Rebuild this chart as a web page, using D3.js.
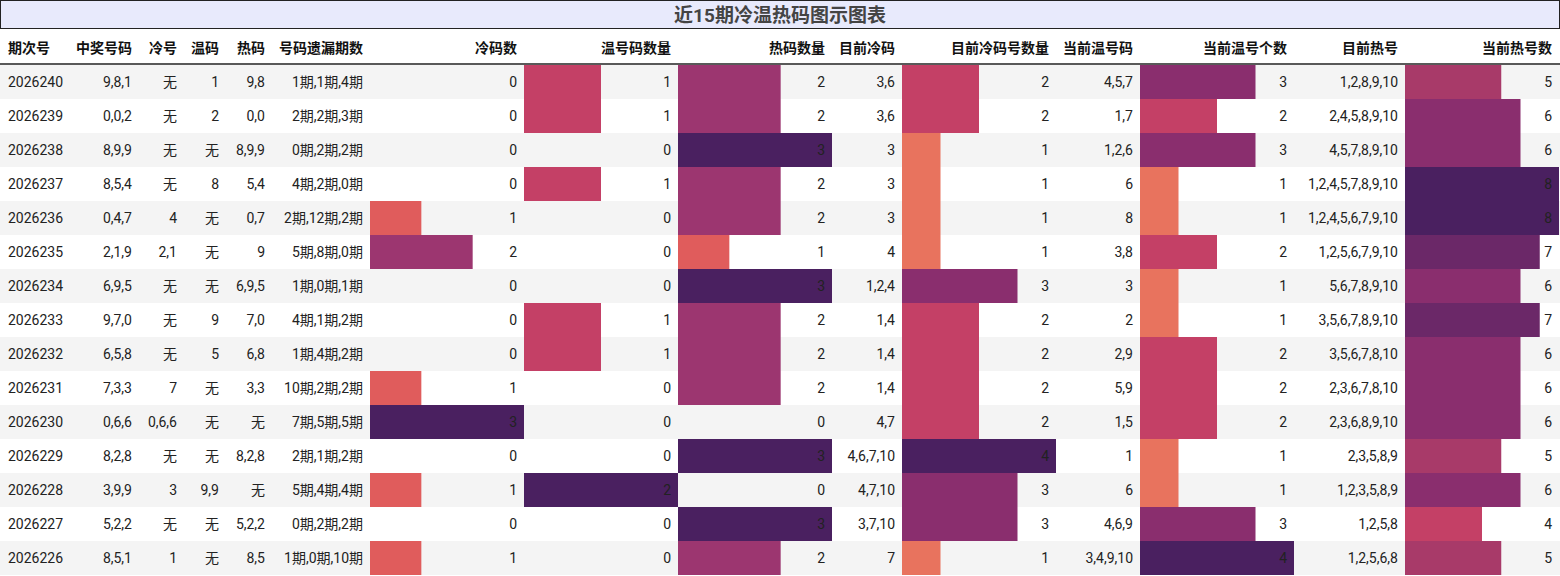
<!DOCTYPE html><html><head><meta charset="utf-8"><script src="https://cdn.jsdelivr.net/npm/d3@7"></script>
<style>body{margin:0;background:#fff}svg{font-family:Roboto,"Noto Sans CJK SC",sans-serif}</style></head><body><svg id="c" width="1560" height="576"></svg><script>
const periods=["2026240","2026239","2026238","2026237","2026236","2026235","2026234","2026233","2026232","2026231","2026230","2026229","2026228","2026227","2026226"];
const winning=["9,8,1","0,0,2","8,9,9","8,5,4","0,4,7","2,1,9","6,9,5","9,7,0","6,5,8","7,3,3","0,6,6","8,2,8","3,9,9","5,2,2","8,5,1"];
const coldNums=["无","无","无","无","4","2,1","无","无","无","7","0,6,6","无","3","无","1"];
const warmNums=["1","2","无","8","无","无","无","9","5","无","无","无","9,9","无","无"];
const hotNums=["9,8","0,0","8,9,9","5,4","0,7","9","6,9,5","7,0","6,8","3,3","无","8,2,8","无","5,2,2","8,5"];
const missing=["1期,1期,4期","2期,2期,3期","0期,2期,2期","4期,2期,0期","2期,12期,2期","5期,8期,0期","1期,0期,1期","4期,1期,2期","1期,4期,2期","10期,2期,2期","7期,5期,5期","2期,1期,2期","5期,4期,4期","0期,2期,2期","1期,0期,10期"];
const coldCount=[0,0,0,0,1,2,0,0,0,1,3,0,1,0,1];
const warmCount=[1,1,0,1,0,0,0,1,1,0,0,0,2,0,0];
const hotCount=[2,2,3,2,2,1,3,2,2,2,0,3,0,3,2];
const curCold=["3,6","3,6","3","3","3","4","1,2,4","1,4","1,4","1,4","4,7","4,6,7,10","4,7,10","3,7,10","7"];
const curColdCount=[2,2,1,1,1,1,3,2,2,2,2,4,3,3,1];
const curWarm=["4,5,7","1,7","1,2,6","6","8","3,8","3","2","2,9","5,9","1,5","1","6","4,6,9","3,4,9,10"];
const curWarmCount=[3,2,3,1,1,2,1,1,2,2,2,1,1,3,4];
const curHot=["1,2,8,9,10","2,4,5,8,9,10","4,5,7,8,9,10","1,2,4,5,7,8,9,10","1,2,4,5,6,7,9,10","1,2,5,6,7,9,10","5,6,7,8,9,10","3,5,6,7,8,9,10","3,5,6,7,8,10","2,3,6,7,8,10","2,3,6,8,9,10","2,3,5,8,9","1,2,3,5,8,9","1,2,5,8","1,2,5,6,8"];
const curHotCount=[5,6,6,8,8,7,6,7,6,6,6,5,6,4,5];
const headers=["期次号","中奖号码","冷号","温码","热码","号码遗漏期数","冷码数","温号码数量","热码数量","目前冷码","目前冷码号数量","当前温号码","当前温号个数","目前热号","当前热号数"];
const title="近15期冷温热码图示图表";

const cols=[
 {x0:0,x1:70,data:periods,align:"left"},
 {x0:70,x1:139,data:winning},{x0:139,x1:184,data:coldNums},{x0:184,x1:226,data:warmNums},
 {x0:226,x1:272,data:hotNums},{x0:272,x1:370,data:missing},
 {x0:370,x1:524,data:coldCount,max:3},{x0:524,x1:678,data:warmCount,max:2},
 {x0:678,x1:832,data:hotCount,max:3},{x0:832,x1:902,data:curCold},
 {x0:902,x1:1056,data:curColdCount,max:4},{x0:1056,x1:1140,data:curWarm},
 {x0:1140,x1:1294,data:curWarmCount,max:4},{x0:1294,x1:1405,data:curHot},
 {x0:1405,x1:1559,data:curHotCount,max:8}];
const svg=d3.select("#c");
const color=d3.scaleLinear().domain([0.25,1/3,0.5,0.625,2/3,0.75,0.875,1])
 .range(["#e8735e","#e05c5c","#c44066","#a83a69","#9c3670","#8a2e6e","#6b2868","#4a2060"]);
const y=d3.scaleBand().domain(d3.range(periods.length)).range([65,575]);
svg.append("rect").attr("x",0.5).attr("y",0.5).attr("width",1559).attr("height",28).attr("fill","#e8eafc").attr("stroke","#222");
svg.append("text").attr("x",780).attr("y",22).attr("text-anchor","middle").attr("font-size",19).attr("font-weight","bold").attr("fill","#444").text(title);
headers.forEach((h,i)=>{const c=cols[i];
 svg.append("text").attr("x",i==0?8:c.x1-7).attr("y",53).attr("text-anchor",i==0?"start":"end").attr("font-size",14).attr("font-weight","bold").attr("fill","#111").text(h);});
svg.append("line").attr("x1",0).attr("x2",1560).attr("y1",64).attr("y2",64).attr("stroke","#222").attr("stroke-width",1.5);
periods.forEach((p,r)=>{
 svg.append("rect").attr("x",0).attr("y",y(r)).attr("width",1560).attr("height",y.bandwidth()).attr("fill",r%2==0?"#f4f4f4":"#fff");
 cols.forEach(c=>{
  const v=c.data[r];
  if(c.max){const xs=d3.scaleLinear().domain([0,c.max]).range([c.x0,c.x1]);
   if(v>0)svg.append("rect").attr("x",c.x0).attr("y",y(r)).attr("width",xs(v)-c.x0).attr("height",y.bandwidth()).attr("fill",color(v/c.max));}
  svg.append("text").attr("x",c.align=="left"?8:c.x1-7).attr("y",y(r)+y.bandwidth()/2+5).attr("text-anchor",c.align=="left"?"start":"end").attr("font-size",14).attr("fill","#222").text(v);
 });
});
</script></body></html>
